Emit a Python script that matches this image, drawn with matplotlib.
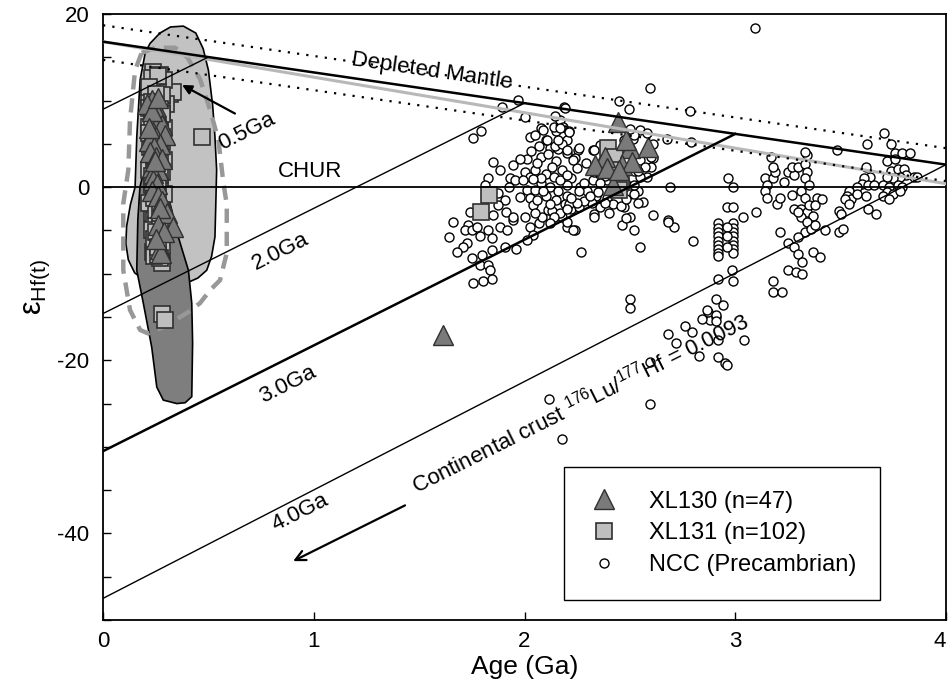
import numpy as np
import matplotlib
matplotlib.use("Agg")
import matplotlib.pyplot as plt
from matplotlib.ticker import MultipleLocator

plt.rcParams['font.family'] = ['Liberation Sans', 'DejaVu Sans']
plt.rcParams['mathtext.fontset'] = 'custom'
plt.rcParams['mathtext.rm'] = 'Liberation Sans'
plt.rcParams['mathtext.it'] = 'Liberation Sans:italic'
plt.rcParams['mathtext.default'] = 'regular'
plt.rcParams['axes.unicode_minus'] = False

# ---------------- reference lines ----------------
dm_age = [0.0, 4.0]          # depleted mantle
dm_eps = [16.8, 2.6]
dm_hi_eps = [18.7, 4.5]      # dotted envelope
dm_lo_eps = [14.7, 0.7]
dm2_age = [0.0, 4.0]         # grey mantle curve
dm2_eps = [16.8, 0.4]
crust_model_age = [0.5, 2.0, 3.0, 4.0]
crust_eps_today = [9.0, -14.6, -30.5, -47.5]
crust_lw = [1.0, 1.0, 1.8, 1.0]
crust_label = ['0.5Ga', '2.0Ga', '3.0Ga', '4.0Ga']
crust_label_x = [0.682, 0.84, 0.878, 0.935]
crust_label_y = [6.4, -7.4, -22.8, -37.6]

# ---------------- fields ----------------
light_x = [0.381, 0.44, 0.475, 0.50, 0.52, 0.531, 0.539, 0.535, 0.531, 0.515, 0.492, 0.45, 0.413, 0.30, 0.20,
           0.15, 0.12, 0.108, 0.112, 0.13, 0.152, 0.16, 0.176, 0.20, 0.223, 0.27, 0.32]
light_y = [18.6, 17.8, 16.0, 13.5, 9.5, 5.8, 2.0, -2.0, -5.75, -8.0, -9.6, -10.5, -10.9, -11.5, -10.8,
           -9.9, -8.4, -6.5, -4.5, -2.0, 0.0, 5.8, 12.4, 15.5, 16.6, 17.8, 18.5]
dark_x = [0.22, 0.26, 0.285, 0.29, 0.30, 0.318, 0.357, 0.405, 0.421, 0.425, 0.421, 0.39, 0.35, 0.286, 0.255,
          0.231, 0.191, 0.16, 0.165, 0.175, 0.20, 0.215]
dark_y = [8.5, 9.5, 8.0, 4.0, 1.0, -1.9, -5.75, -9.6, -13.4, -18.0, -24.2, -24.9, -25.0, -24.6, -23.1,
          -18.5, -13.4, -9.6, -3.8, 0.0, 2.5, 6.0]
dash_x = [0.183, 0.25, 0.342, 0.40, 0.46, 0.508, 0.547, 0.571, 0.587, 0.587, 0.555, 0.508, 0.46, 0.40, 0.30,
          0.214, 0.176, 0.128, 0.096, 0.096, 0.12, 0.128, 0.152]
dash_y = [15.5, 16.1, 16.1, 15.0, 12.5, 8.9, 5.5, 0.5, -2.0, -7.6, -10.75, -11.9, -13.4, -14.5, -16.0,
          -16.9, -16.5, -14.2, -9.6, -1.9, 2.0, 7.75, 13.5]

# ---------------- XL130 (triangles) ----------------
xl130_age = [0.231, 0.21, 0.25, 0.263, 0.24, 0.28, 0.239, 0.294, 0.25, 0.22, 0.27, 0.24, 0.223, 0.25, 0.28,
             0.231, 0.26, 0.239, 0.239, 0.255, 0.23, 0.26, 0.28, 0.302, 0.27, 0.262, 0.334, 0.29, 0.27, 0.275,
             0.25, 0.23, 0.26, 0.22, 0.245,
             2.445, 2.5, 2.587, 2.382, 2.335, 2.39, 2.461, 2.51, 2.42, 2.45, 2.48,
             1.613]
xl130_eps = [10.06, 9.6, 9.2, 8.3, 7.6, 7.2, 6.4, 6.0, 5.8, 5.3, 5.0, 4.6, 4.1, 3.5, 3.2,
             2.35, 2.0, 1.6, 0.8, 0.4, -0.4, -1.0, -1.6, -3.0, -2.4, -4.4, -4.6, -5.2, -7.1, -7.6,
             -6.0, 8.8, 10.3, 6.8, 3.0,
             7.55, 4.5, 4.65, 3.5, 2.5, 2.2, 2.5, 2.9, 0.2, 2.0, 5.5,
             -17.1]

# ---------------- XL131 (squares) ----------------
xl131_age = [0.239, 0.27, 0.231, 0.318, 0.27, 0.33, 0.22, 0.468, 0.22, 0.28, 0.225, 0.29, 0.255, 0.231, 0.27,
             0.255, 0.239, 0.278, 0.278, 0.294,
             0.25, 0.29, 0.24, 0.27, 0.30, 0.23, 0.26, 0.25, 0.22, 0.29, 0.26, 0.23, 0.28, 0.25, 0.27, 0.23,
             0.26, 0.22, 0.28, 0.25, 0.23, 0.27, 0.24, 0.29, 0.22, 0.26, 0.28, 0.24, 0.25, 0.29, 0.23, 0.27,
             0.26, 0.28, 0.25, 0.27, 0.24,
             0.24, 0.26, 0.28, 0.24, 0.27, 0.24, 0.26, 0.24, 0.27, 0.25, 0.26, 0.25, 0.27, 0.24, 0.26,
             0.23, 0.26, 0.22, 0.28, 0.25, 0.23, 0.27, 0.25, 0.28, 0.23, 0.26, 0.22, 0.28, 0.24, 0.26, 0.24,
             0.25, 0.23, 0.26, 0.24, 0.27, 0.25, 0.26,
             1.833, 1.792, 2.398, 2.46, 2.45, 2.43, 2.44]
xl131_eps = [13.3, 13.0, 11.2, 10.8, 11.6, 11.0, 10.4, 5.8, 9.1, 8.0, 4.6, 3.1, -1.1, -3.0, -3.4,
             -5.7, -7.5, -8.8, -14.6, -15.4,
             12.2, 12.4, 10.0, 10.2, 9.6, 8.5, 8.8, 7.4, 7.0, 6.8, 6.3, 5.6, 5.2, 4.2, 3.8, 3.3,
             2.6, 2.0, 1.8, 1.0, 0.3, 0.0, -0.5, -0.8, -1.8, -2.2, -2.8, -3.8, -4.4, -4.0, -5.0, -5.4,
             -6.4, -6.8, -7.0, -8.2, -8.0,
             11.8, 11.0, 9.4, 9.4, 7.7, 6.0, 4.8, 2.9, 1.4, -0.2, -1.4, -2.6, -4.8, -6.0, -7.8,
             12.6, 12.8, 11.6, 10.6, 10.8, 9.8, 9.0, 8.2, 8.4, 7.3, 6.9, 6.3, 5.8, 5.1, 4.0, 3.6,
             2.3, 1.3, 0.6, -1.2, -3.0, -5.2, -6.9,
             -0.9, -2.85, 4.5, 0.6, -0.3, 3.5, 2.0]

# ---------------- NCC Precambrian zircons (circles), by age group ----------------
ncc_group_18 = [(1.754, 5.7), (1.794, 6.5), (1.971, 10.1), (1.892, 9.2), (2.002, 8.1), (2.026, 5.8), (1.849, 2.9),
                (1.884, 2.0), (1.828, 1.1), (1.813, 0.2), (1.947, 2.5), (1.931, 1.0), (1.955, 0.8), (1.928, 0.0),
                (1.876, -0.7), (1.907, -1.5), (1.876, -2.1), (1.912, -2.9), (1.852, -3.2), (1.741, -2.9),
                (1.733, -4.4), (1.718, -5.0), (1.75, -5.0), (1.773, -4.6), (1.789, -5.7), (1.828, -5.0),
                (1.844, -5.9), (1.884, -4.6), (1.947, -3.8), (1.844, -7.3), (1.726, -6.5), (1.71, -6.9),
                (1.681, -7.5), (1.907, -6.9), (1.96, -7.2), (1.789, -9.0), (1.828, -9.0), (1.836, -9.6),
                (1.844, -10.6), (1.805, -10.9), (1.757, -11.1), (2.010, 3.3), (1.98, 3.2), (2.002, 1.8),
                (2.026, 1.2), (1.995, 0.8), (1.979, -1.1), (2.01, -0.3), (2.026, -1.2), (2.042, -2.1),
                (2.002, -3.4), (2.026, -4.6), (2.042, -5.5), (2.07, -4.2), (2.085, -3.4), (2.11, -2.6),
                (2.05, -3.0), (1.915, -5.0), (1.947, -3.4), (1.64, -5.8), (1.66, -4.0), (1.75, -8.2),
                (1.8, -7.8)]
ncc_group_21 = [(2.05, 6.0), (2.1, 5.5), (2.15, 6.5), (2.12, 4.5), (2.08, 3.5), (2.15, 3.0), (2.2, 4.0), (2.05, 2.0),
                (2.1, 1.5), (2.18, 2.0), (2.22, 1.0), (2.08, 0.5), (2.12, 0.0), (2.16, -0.5), (2.2, 0.2),
                (2.05, -0.3), (2.1, -1.0), (2.15, -1.5), (2.2, -1.0), (2.22, -2.5), (2.13, -2.8), (2.18, -3.5),
                (2.08, 1.0), (2.14, 1.2), (2.06, 2.8), (2.2, 5.5), (2.08, 6.8), (2.14, 7.0), (2.17, 7.8),
                (2.03, 4.2), (2.07, 4.8), (2.11, 3.8), (2.16, 4.4), (2.04, 0.9), (2.13, 2.3), (2.17, 0.8),
                (2.09, -0.4), (2.06, -1.5), (2.12, -1.9), (2.19, -2.0)]
ncc_group_25 = [(2.596, 11.4), (2.497, 9.0), (2.45, 10.0), (2.785, 8.8), (2.187, 9.2), (2.145, 8.2), (2.184, 7.0),
                (2.21, 6.5), (2.17, 6.8), (2.09, 6.6), (2.108, 5.4), (2.145, 4.7), (2.18, 5.0), (2.2, 4.3),
                (2.255, 4.3), (2.24, 3.4), (2.327, 4.3), (2.29, 2.8), (2.25, 2.2), (2.2, 1.4), (2.263, 0.0),
                (2.295, -0.4), (2.327, 0.8), (2.36, 1.5), (2.34, -1.0), (2.39, -1.2), (2.42, -1.9), (2.47, -2.3),
                (2.358, -2.3), (2.33, -3.1), (2.26, -2.3), (2.21, -1.9), (2.168, -3.0), (2.14, -3.4), (2.2, -4.6),
                (2.24, -5.0), (2.27, -7.5), (2.12, -4.2), (2.01, -6.1), (2.461, -4.4), (2.52, -5.0), (2.5, -3.5),
                (2.548, -6.9), (2.611, -3.2), (2.56, -1.7), (2.69, 0.0), (2.683, -3.8), (2.71, -4.6), (2.8, -6.2),
                (2.5, -12.9), (2.5, -14.0), (2.42, 1.9), (2.45, 3.1), (2.52, 1.9), (2.55, 3.1), (2.58, 4.3),
                (2.61, 3.4), (2.6, 2.3), (2.58, 1.2), (2.54, -0.4), (2.5, -0.8), (2.48, 0.4), (2.39, 0.8),
                (2.37, 3.1), (2.33, 1.9), (2.36, 4.9), (2.55, 6.6), (2.58, 6.2), (2.516, 5.6), (2.61, 5.0),
                (2.19, 9.1), (2.675, 5.6), (2.79, 5.2), (2.68, -4.0), (2.23, -5.0), (2.33, -3.5), (2.4, -3.0),
                (2.48, -3.6), (2.46, -2.2), (2.54, -1.8), (2.52, -0.8), (2.48, -1.4), (2.38, -1.8), (2.32, -1.8),
                (2.28, -1.6), (2.25, -1.8), (2.22, -1.2), (2.26, -0.4), (2.31, -1.0), (2.35, -0.6), (2.52, 0.2),
                (2.55, 1.2), (2.57, 2.3), (2.6, 3.5), (2.54, 1.9), (2.52, 6.0), (2.5, 6.7), (2.47, 5.4),
                (2.33, 4.3), (2.26, 4.5), (2.23, 3.1), (2.28, 0.5), (2.33, 1.7), (2.38, 1.3), (2.47, 0.4),
                (2.36, 0.5), (2.21, 6.4), (2.16, 5.5), (2.2, -2.5), (2.2, -4.0)]
ncc_group_low = [(2.118, -24.5), (2.18, -29.1), (2.595, -25.1), (2.595, -20.2), (2.793, -16.7), (2.88, -15.4),
                 (2.872, -14.4), (2.91, -15.0), (2.92, -19.6), (2.95, -20.3), (2.68, -17.0), (2.72, -18.0),
                 (2.76, -16.0), (2.83, -19.5), (3.094, 18.4)]
ncc_group_30 = [(2.967, 1.0), (2.99, 0.0), (2.959, -2.3), (2.99, -2.3), (3.038, -3.4), (3.1, -2.9),
                (2.92, -4.2), (2.92, -4.7), (2.92, -5.2), (2.92, -5.7), (2.92, -6.2), (2.92, -6.7), (2.92, -7.2),
                (2.92, -7.6), (2.92, -8.0), (2.99, -4.2), (2.99, -4.7), (2.99, -5.2), (2.99, -5.7), (2.99, -6.2),
                (2.99, -6.7), (2.99, -7.2), (2.99, -7.6), (2.96, -4.6), (2.96, -5.6), (2.96, -6.9),
                (2.983, -9.6), (2.99, -10.9), (2.92, -10.6), (2.91, -12.9), (2.94, -13.6), (2.865, -14.2),
                (2.91, -14.8), (2.91, -15.5), (2.84, -15.2), (2.92, -17.7), (3.04, -17.7), (2.96, -20.6)]
ncc_group_33 = [(3.21, -5.2), (3.2, -1.9), (3.25, -6.5), (3.18, -10.8), (3.18, -12.1), (3.22, -12.1), (3.25, -9.6),
                (3.29, -9.8), (3.315, -10.0), (3.28, -6.9), (3.3, -7.7), (3.315, -8.7), (3.37, -7.5), (3.4, -8.1),
                (3.426, -5.0), (3.39, -1.3), (3.14, 1.0), (3.15, 0.2), (3.14, -0.5), (3.15, -1.3), (3.18, 1.0),
                (3.19, 1.8), (3.23, 0.6), (3.25, 1.8), (3.28, 1.4), (3.27, 2.3), (3.3, 2.3), (3.33, 2.7),
                (3.34, 3.7), (3.33, 4.1), (3.34, 1.8), (3.33, 1.0), (3.35, 0.2), (3.31, -0.5), (3.33, -1.3),
                (3.28, -2.5), (3.31, -2.5), (3.34, -2.9), (3.35, -2.1), (3.38, -2.1), (3.37, -3.3), (3.31, -3.4),
                (3.34, -4.0), (3.33, -5.2), (3.3, -5.8), (3.36, -4.8), (3.38, -4.4), (3.21, -1.3), (3.27, -0.9),
                (3.17, 3.5), (3.18, 2.3), (3.3, -2.9)]
ncc_group_37 = [(3.706, 6.3), (3.627, 5.0), (3.481, 4.3), (3.74, 5.0), (3.758, 3.9), (3.79, 4.0), (3.83, 3.9),
                (3.72, 3.0), (3.76, 3.2), (3.62, 2.3), (3.74, 1.9), (3.77, 2.1), (3.8, 2.1), (3.81, 1.4),
                (3.78, 1.2), (3.75, 1.1), (3.72, 1.2), (3.85, 1.2), (3.64, 1.2), (3.61, 1.0), (3.6, 0.4),
                (3.58, 0.0), (3.54, -0.4), (3.63, 0.2), (3.66, 0.2), (3.7, 0.2), (3.73, 0.0), (3.77, 0.2),
                (3.79, 0.0), (3.72, -0.6), (3.75, -0.8), (3.78, -0.4), (3.53, -1.0), (3.55, -1.4), (3.58, -0.8),
                (3.62, -1.0), (3.7, -1.0), (3.73, -1.4), (3.52, -1.4), (3.54, -2.0), (3.63, -2.5), (3.67, -3.1),
                (3.49, -2.7), (3.5, -3.1), (3.49, -5.2), (3.51, -4.8), (3.41, -1.4), (3.86, 1.2)]
ncc_groups = [ncc_group_18, ncc_group_21, ncc_group_25, ncc_group_low, ncc_group_30, ncc_group_33, ncc_group_37]

# ---------------- figure ----------------
fig = plt.figure(figsize=(9.48, 6.96), dpi=100)
ax = fig.add_axes([0.1087, 0.1092, 0.8892, 0.8707])
ax.set_xlim(0, 4)
ax.set_ylim(-50, 20)

ax.fill(light_x, light_y, facecolor='#c2c2c2', edgecolor='black', lw=1.2, zorder=1)
ax.fill(dark_x, dark_y, facecolor='#7e7e7e', edgecolor='black', lw=1.2, zorder=1.1)
ax.plot(dash_x + dash_x[:1], dash_y + dash_y[:1], color='#989898', lw=3.2, dashes=(3.2, 2.0), zorder=1.2)

ncc_age = [p[0] for g in ncc_groups for p in g]
ncc_eps = [p[1] for g in ncc_groups for p in g]
ax.plot(ncc_age, ncc_eps, ls='none', marker='o', ms=6.5, mfc='white', mec='black', mew=1.0, zorder=2,
        label='NCC (Precambrian)')
ax.plot(xl131_age, xl131_eps, ls='none', marker='s', ms=11, mfc='#bfbfbf', mec='#303030', mew=1.2, zorder=3,
        label='XL131 (n=102)')
ax.plot(xl130_age, xl130_eps, ls='none', marker='^', ms=14, mfc='#7a7a7a', mec='#303030', mew=1.0, zorder=4,
        label='XL130 (n=47)')

# lines
ax.plot(dm2_age, dm2_eps, color='#b8b8b8', lw=2.2, zorder=5)
ax.plot(dm_age, dm_eps, color='black', lw=1.8, zorder=5.1)
ax.plot(dm_age, dm_hi_eps, color='black', lw=1.6, ls=(0, (1, 3.2)), zorder=5.1)
ax.plot(dm_age, dm_lo_eps, color='black', lw=1.6, ls=(0, (1, 3.2)), zorder=5.1)
ax.axhline(0, color='black', lw=1.3, zorder=5.1)
for T, e0, lw in zip(crust_model_age, crust_eps_today, crust_lw):
    ax.plot([0, T], [e0, np.interp(T, dm_age, dm_eps)], color='black', lw=lw, zorder=5.1)

# labels
fs = 16
for lab, lx, ly in zip(crust_label, crust_label_x, crust_label_y):
    ax.text(lx, ly, lab, fontsize=fs, rotation=26.6, rotation_mode='anchor', ha='center', va='center', zorder=6)
ax.text(0.982, 1.85, 'CHUR', fontsize=fs, ha='center', va='center', zorder=6)
ax.text(1.56, 13.4, 'Depleted Mantle', fontsize=fs, rotation=-8.3, rotation_mode='anchor',
        ha='center', va='center', zorder=6)
ax.text(2.263, -24.97, r'Continental crust $^{176}$Lu/$^{177}$Hf = 0.0093', fontsize=fs, rotation=26.6,
        rotation_mode='anchor', ha='center', va='center', zorder=6)

ax.annotate('', xy=(0.375, 11.8), xytext=(0.626, 8.5),
            arrowprops=dict(arrowstyle='-|>', color='black', lw=1.6, mutation_scale=14, shrinkA=0, shrinkB=0),
            zorder=6)
ax.annotate('', xy=(0.902, -43.2), xytext=(1.433, -36.76),
            arrowprops=dict(arrowstyle='->', color='black', lw=1.6, mutation_scale=18, shrinkA=0, shrinkB=0),
            zorder=6)

# axes styling
ax.set_xticks([0, 1, 2, 3, 4])
ax.set_xticklabels(['0', '1', '2', '3', '4'])
ax.set_yticks([-40, -20, 0, 20])
ax.yaxis.set_minor_locator(MultipleLocator(5))
ax.tick_params(axis='both', which='both', direction='in', length=6, width=1.0, labelsize=16)
ax.tick_params(axis='y', which='both', pad=10)
ax.tick_params(axis='x', which='both', pad=8)
ax.get_xticklabels()[-1].set_horizontalalignment('right')
for s in ax.spines.values():
    s.set_linewidth(1.3)
ax.set_xlabel('Age (Ga)', fontsize=19, labelpad=2)
ax.set_ylabel(r'$\varepsilon_{Hf(t)}$', fontsize=22)
ax.yaxis.set_label_coords(-0.06, 0.55)

h, l = ax.get_legend_handles_labels()
leg = ax.legend(h[::-1], l[::-1], loc='lower right', bbox_to_anchor=(0.922, 0.033), fontsize=17,
                frameon=True, fancybox=False, edgecolor='black', framealpha=1, borderpad=1.0,
                labelspacing=0.42, handletextpad=1.2, borderaxespad=0, handlelength=1.4)
leg.get_frame().set_linewidth(1.0)
leg.set_zorder(7)

fig.savefig('out.png', dpi=100)
